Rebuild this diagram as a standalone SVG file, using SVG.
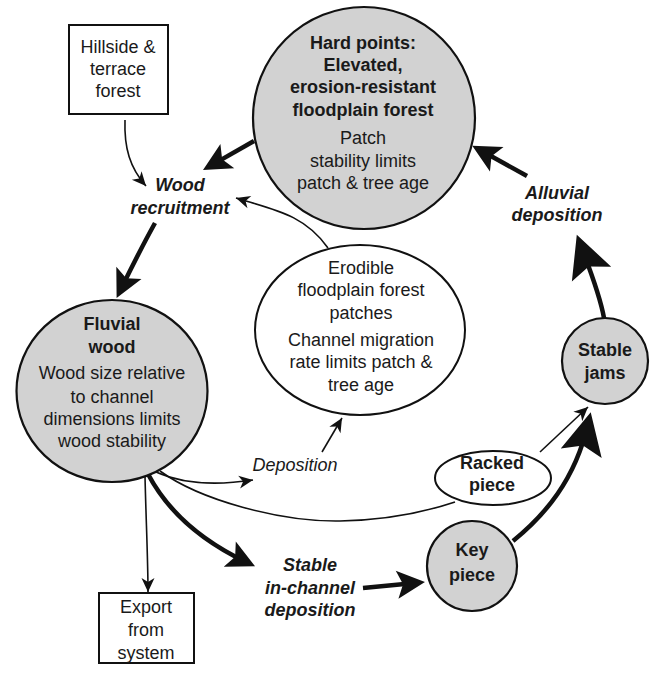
<svg xmlns="http://www.w3.org/2000/svg" width="651" height="673" viewBox="0 0 651 673">
<style>
text{font-family:"Liberation Sans",Arial,sans-serif;font-size:18px;fill:#1a1a1a;text-anchor:middle}
.b{font-weight:bold}
.i{font-style:italic}
.gray{fill:#d2d2d2;stroke:#111;stroke-width:2.2}
.white{fill:#fff;stroke:#111;stroke-width:2}
.thin{fill:none;stroke:#111;stroke-width:1.6}
.thick{fill:none;stroke:#111;stroke-width:4.5}
</style>
<defs>
<marker id="sm" markerUnits="userSpaceOnUse" overflow="visible" orient="auto" refX="0" refY="0" markerWidth="1" markerHeight="1"><path d="M0,0 L-14,-6.5 L-10,0 L-14,6.5 Z" fill="#111"/></marker>
<marker id="big" markerUnits="userSpaceOnUse" overflow="visible" orient="auto" refX="0" refY="0" markerWidth="1" markerHeight="1"><path d="M10,0 L-18,-14 L-12,0 L-18,14 Z" fill="#111"/></marker>
<marker id="huge" markerUnits="userSpaceOnUse" overflow="visible" orient="auto" refX="0" refY="0" markerWidth="1" markerHeight="1"><path d="M12,0 L-30,-21 L-22,0 L-30,21 Z" fill="#111"/></marker>
</defs>
<g id="connectors">
<path class="thin" d="M125,120 C124,148 130,168 146,186" marker-end="url(#sm)"/>
<path class="thick" d="M254,141 L211.7,165.1" marker-end="url(#big)"/>
<path class="thin" d="M328,248 C305,215 275,210 236,198" marker-end="url(#sm)"/>
<path class="thick" d="M155,223 Q140,250 121,289" marker-end="url(#big)"/>
<path class="thin" d="M145,476 C146,520 148,560 148,592" marker-end="url(#sm)"/>
<path class="thick" d="M148,474 C168,512 200,540 246,562" marker-end="url(#big)"/>
<path class="thin" d="M156,472 C185,485 220,485 253,480" marker-end="url(#sm)"/>
<path class="thin" d="M160,471 C200,500 280,522 340,521 C390,520 425,512 455,502"/>
<path class="thin" d="M540,452 L588,407" marker-end="url(#sm)"/>
<path class="thin" d="M322,452 L342,418" marker-end="url(#sm)"/>
<path class="thick" d="M363,588 L415,583" marker-end="url(#big)"/>
<path class="thick" d="M513,541 C545,515 575,480 588,424" marker-end="url(#huge)"/>
<path class="thick" d="M604,318 C600,295 590,270 581,246" marker-end="url(#huge)"/>
<path class="thick" d="M527,176 L481,150.5" marker-end="url(#big)"/>
</g>
<g id="hillside">
<rect class="white" x="69" y="25" width="99" height="89"/>
<text x="118" y="53">Hillside &amp;</text>
<text x="118" y="75">terrace</text>
<text x="118" y="97">forest</text>
</g>
<g id="hardpoints">
<circle class="gray" cx="364" cy="118" r="111"/>
<text class="b" x="363" y="49">Hard points:</text>
<text class="b" x="363" y="71">Elevated,</text>
<text class="b" x="363" y="93">erosion-resistant</text>
<text class="b" x="363" y="116">floodplain forest</text>
<text x="363" y="144">Patch</text>
<text x="363" y="167">stability limits</text>
<text x="363" y="189">patch &amp; tree age</text>
</g>
<g id="recruitment">
<text class="b i" x="180" y="191">Wood</text>
<text class="b i" x="180" y="214">recruitment</text>
</g>
<g id="fluvial">
<ellipse class="gray" cx="112" cy="391" rx="95.5" ry="91"/>
<text class="b" x="112" y="330">Fluvial</text>
<text class="b" x="112" y="353">wood</text>
<text x="112" y="379">Wood size relative</text>
<text x="112" y="403">to channel</text>
<text x="112" y="425">dimensions limits</text>
<text x="112" y="447">wood stability</text>
</g>
<g id="erodible">
<ellipse class="white" cx="360" cy="330" rx="105" ry="85"/>
<text x="361" y="274">Erodible</text>
<text x="361" y="296">floodplain forest</text>
<text x="361" y="319">patches</text>
<text x="361" y="346">Channel migration</text>
<text x="361" y="368">rate limits patch &amp;</text>
<text x="361" y="391">tree age</text>
</g>
<g id="deposition">
<text class="i" x="295" y="471">Deposition</text>
</g>
<g id="alluvial">
<text class="b i" x="557" y="199">Alluvial</text>
<text class="b i" x="557" y="221">deposition</text>
</g>
<g id="stablejams">
<circle class="gray" cx="605" cy="361" r="43"/>
<text class="b" x="605" y="356">Stable</text>
<text class="b" x="605" y="379">jams</text>
</g>
<g id="racked">
<ellipse class="white" cx="493" cy="478" rx="58" ry="27"/>
<text class="b" x="492" y="469">Racked</text>
<text class="b" x="492" y="491">piece</text>
</g>
<g id="keypiece">
<circle class="gray" cx="472" cy="566" r="45"/>
<text class="b" x="472" y="556">Key</text>
<text class="b" x="472" y="581">piece</text>
</g>
<g id="stablechannel">
<text class="b i" x="310" y="571">Stable</text>
<text class="b i" x="310" y="594">in-channel</text>
<text class="b i" x="310" y="616">deposition</text>
</g>
<g id="export">
<rect class="white" x="99" y="593" width="95" height="70"/>
<text x="146" y="613">Export</text>
<text x="146" y="636">from</text>
<text x="146" y="659">system</text>
</g>
</svg>
